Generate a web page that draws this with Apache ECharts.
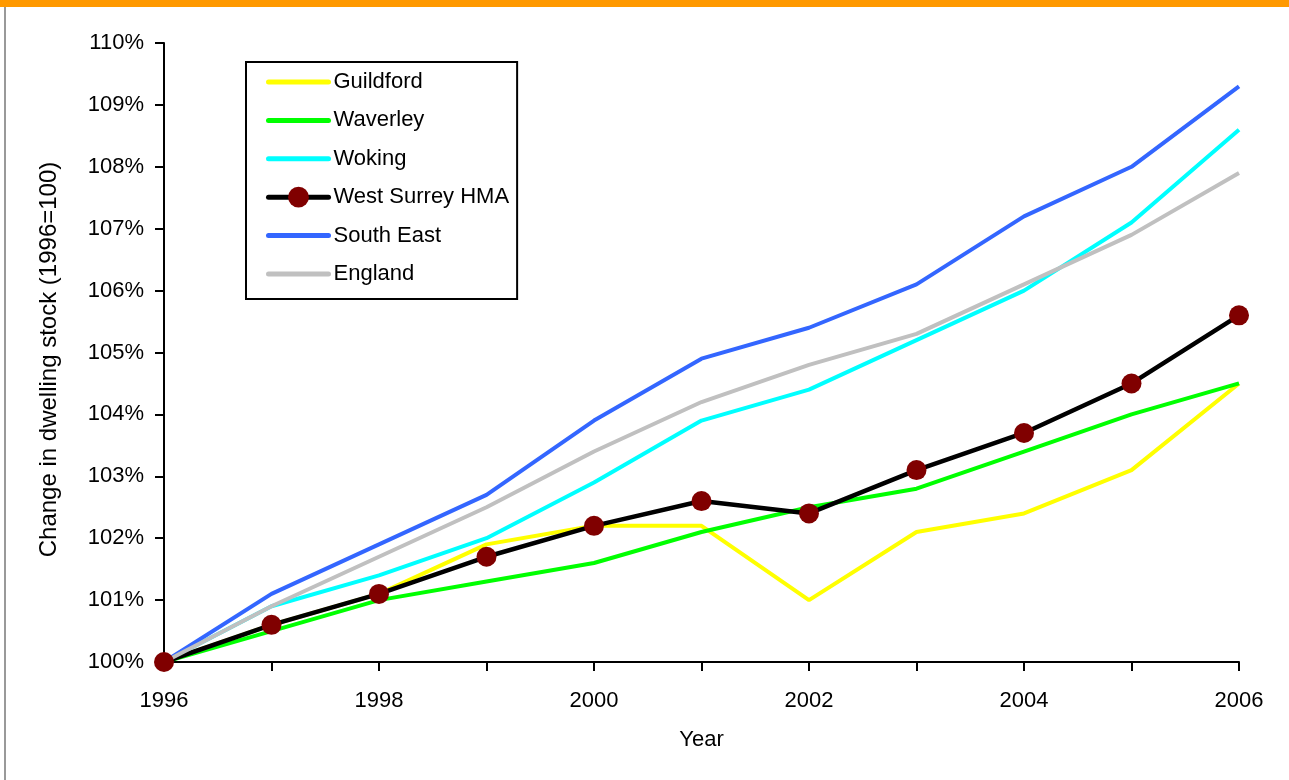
<!DOCTYPE html>
<html>
<head>
<meta charset="utf-8">
<title>Change in dwelling stock</title>
<script src="https://cdn.jsdelivr.net/npm/echarts@6/dist/echarts.min.js"></script>
<style>
  html, body { margin: 0; padding: 0; background: #fff; }
  #chart { width: 1289px; height: 780px; }
</style>
</head>
<body>
<div id="chart"></div>
<script>
// Dwelling stock index (1996 = 100), by area and year
const years = [1996, 1997, 1998, 1999, 2000, 2001, 2002, 2003, 2004, 2005, 2006];
const guildford   = [100, 100.6, 101.1, 101.9, 102.2, 102.2, 101.0, 102.1, 102.4, 103.1, 104.5];
const waverley    = [100, 100.5, 101.0, 101.3, 101.6, 102.1, 102.5, 102.8, 103.4, 104.0, 104.5];
const woking      = [100, 100.9, 101.4, 102.0, 102.9, 103.9, 104.4, 105.2, 106.0, 107.1, 108.6];
const westSurrey  = [100, 100.6, 101.1, 101.7, 102.2, 102.6, 102.4, 103.1, 103.7, 104.5, 105.6];
const southEast   = [100, 101.1, 101.9, 102.7, 103.9, 104.9, 105.4, 106.1, 107.2, 108.0, 109.3];
const england     = [100, 100.9, 101.7, 102.5, 103.4, 104.2, 104.8, 105.3, 106.1, 106.9, 107.9];

const seriesNames = ['Guildford', 'Waverley', 'Woking', 'West Surrey HMA', 'South East', 'England'];
const yTickMin = 100, yTickMax = 110, yTickStep = 1;

const FONT = "'Liberation Sans', Arial, Helvetica, sans-serif";

const pairs = arr => years.map((y, i) => [y, arr[i]]);

// Plain coloured line; its (hidden) symbol style keeps the legend icon a bare line
function plainLine(name, data, color) {
  return {
    name, type: 'line', data: pairs(data),
    symbol: 'none', silent: true,
    lineStyle: { color, width: 4 },
    itemStyle: { color, opacity: 0 }
  };
}

const chart = echarts.init(document.getElementById('chart'), null, { renderer: 'canvas' });

chart.setOption({
  backgroundColor: '#ffffff',
  animation: false,
  textStyle: { fontFamily: FONT, color: '#000' },
  grid: { left: 164, right: 50, top: 43, bottom: 118, containLabel: false },
  legend: {
    orient: 'vertical',
    left: 246, top: 62,
    padding: [9, 8, 14, 20],
    itemGap: 16.4,
    itemWidth: 60,
    itemHeight: 26,
    borderColor: '#000', borderWidth: 2,
    backgroundColor: '#fff',
    data: seriesNames,
    lineStyle: { width: 5, cap: 'round' },
    textStyle: { fontFamily: FONT, fontSize: 22, lineHeight: 22, color: '#000' },
    selectedMode: false
  },
  xAxis: {
    type: 'value',
    min: 1996, max: 2006, interval: 1,
    name: 'Year', nameLocation: 'middle', nameGap: 67,
    nameTextStyle: { fontFamily: FONT, fontSize: 22, color: '#000' },
    axisLine: { lineStyle: { color: '#000', width: 2 } },
    axisTick: { show: true, length: 9, lineStyle: { color: '#000', width: 2 } },
    axisLabel: {
      fontFamily: FONT, fontSize: 22, color: '#000', margin: 28,
      formatter: v => (v % 2 === 0 ? String(v) : '')
    },
    splitLine: { show: false }
  },
  yAxis: {
    type: 'value',
    min: yTickMin, max: yTickMax, interval: yTickStep,
    name: 'Change in dwelling stock (1996=100)',
    nameLocation: 'middle', nameGap: 103, nameRotate: 90,
    nameTextStyle: { fontFamily: FONT, fontSize: 24, color: '#000', padding: [0, 14, 0, 0] },
    axisLine: { show: true, lineStyle: { color: '#000', width: 2 } },
    axisTick: { show: true, length: 9, lineStyle: { color: '#000', width: 2 } },
    axisLabel: { fontFamily: FONT, fontSize: 22, color: '#000', margin: 20, formatter: '{value}%' },
    splitLine: { show: false }
  },
  series: [
    plainLine('Guildford', guildford, '#FFFF00'),
    plainLine('Waverley', waverley, '#00FF00'),
    plainLine('Woking', woking, '#00FFFF'),
    {
      name: 'West Surrey HMA', type: 'line', data: pairs(westSurrey),
      symbol: 'circle', symbolSize: 20, showSymbol: true, silent: true,
      lineStyle: { color: '#000000', width: 4.5 },
      itemStyle: { color: '#800000', borderWidth: 0 },
      z: 3
    },
    plainLine('South East', southEast, '#3366FF'),
    plainLine('England', england, '#C0C0C0')
  ],
  graphic: [
    { type: 'rect', left: 0, top: 0, shape: { width: 1289, height: 7 }, style: { fill: '#FF9900' }, silent: true },
    { type: 'rect', left: 4, top: 7, shape: { width: 2, height: 773 }, style: { fill: '#999999' }, silent: true }
  ]
});
</script>
</body>
</html>
